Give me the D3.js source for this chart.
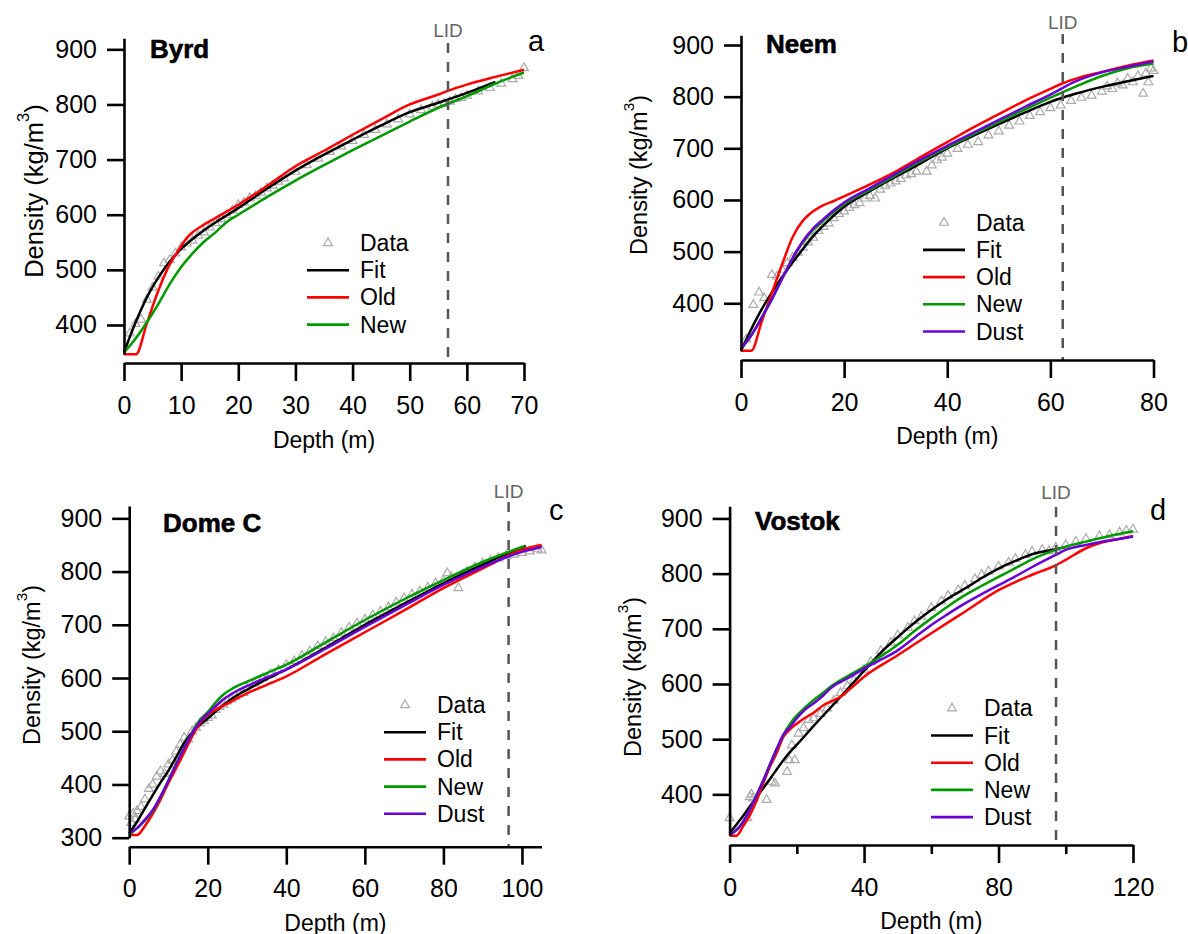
<!DOCTYPE html>
<html>
<head>
<meta charset="utf-8">
<script src="https://cdn.jsdelivr.net/npm/d3@7"></script>
<style>
  body { margin: 0; background: #fff; }
  svg { display: block; }
</style>
</head>
<body>
<script>
// ---- values: [depth (m), density (kg/m3)] ----
const byrdData = [[1,385],[2,402],[3,410],[4,446],[5,468],[6,488],[7,512],[8,518],[9,530],[10,541],[11,548],[12,553],[13,562],[14,568],[15,577],[16,585],[17,592],[18,600],[19,608],[20,618],[21,622],[22,630],[23,634],[24,640],[25,648],[26,653],[27,660],[28,666],[30,678],[32,690],[34,702],[36,714],[38,724],[40,734],[42,745],[44,754],[46,764],[48,773],[50,782],[52,790],[54,796],[55,800],[56,801],[57,805],[58,810],[59,812],[60,816],[62,824],[64,830],[66,838],[68,846],[69,852],[70,866]];
const byrdFit = [[0,350],[1,378],[2,404],[3,428],[4,450],[5,469],[6,486],[7,501],[8,515],[9,527],[10,538],[12,556],[14,572],[16,586],[18,599],[20,612],[25,647],[30,680],[35,709],[40,736],[45,762],[50,786],[55,803],[60,821],[65,841]];
const byrdOld = [[0,347],[2.1,347],[4,403],[6,462],[8,510],[9.5,535],[11,558],[12,568],[14,582],[16,594],[20,618],[25,652],[30,688],[35,716],[40,745],[45,773],[50,800],[55,818],[57,826],[60,836],[65,850],[70,863]];
const byrdNew = [[0,350],[2,375],[4,405],[6,438],[8,474],[10,505],[12,530],[14,551],[16,568],[18,587],[20,600],[25,632],[30,662],[35,690],[40,717],[45,743],[50,769],[55,794],[60,815],[65,838],[70,858]];

const neemData = [[1,330],[2.4,397],[3.5,421],[4.5,410],[6,455],[7,452],[8,465],[9,478],[10,488],[11,498],[12,508],[13,518],[14,527],[15,540],[16,548],[17,555],[18,565],[19,573],[20,578],[21,585],[22,590],[23,594],[24,603],[25,608],[26,603],[27,620],[28,628],[29,632],[30,636],[31,641],[32,648],[33,650],[34,655],[36,655],[37,667],[38,677],[39,682],[40,690],[42,699],[44,707],[46,712],[48,725],[50,733],[52,744],[54,752],[56,763],[58,770],[60,778],[62,783],[64,792],[66,798],[68,802],[70,810],[71,820],[72,815],[73,826],[74,822],[75,835],[76,828],[77,840],[78,806],[78.5,845],[79,828],[79.5,855],[80,850]];
const neemFit = [[0,308],[2,350],[4,388],[6,421],[8,451],[10,479],[12,505],[14,530],[16,551],[18,570],[20,587],[25,617],[30,645],[35,672],[40,700],[45,724],[50,747],[55,769],[60,790],[65,806],[70,819],[75,830],[80,840]];
const neemOld = [[0,308],[2,308],[4,364],[6,420],[8,476],[10,528],[12,560],[13,570],[14,578],[16,590],[18,598],[20,607],[25,630],[30,655],[35,684],[40,712],[45,740],[50,766],[55,792],[60,815],[62.4,826],[65,835],[70,848],[75,860],[80,870]];
const neemNew = [[0,312],[2,338],[4,372],[6,408],[8,448],[10,487],[12,518],[14,542],[16,560],[18,577],[20,592],[25,620],[30,648],[35,676],[40,702],[45,727],[50,751],[55,775],[60,798],[65,820],[70,840],[75,855],[80,864]];
const neemDust = [[0,312],[2,338],[4,372],[6,408],[8,448],[10,487],[12,520],[14,545],[16,563],[18,580],[20,595],[25,623],[30,651],[35,679],[40,705],[45,730],[50,755],[55,780],[60,804],[65,830],[70,847],[75,858],[80,868]];

const domecData = [[0,340],[0.5,328],[1,345],[1.5,335],[2,350],[3,358],[4,372],[5,392],[6,400],[7,415],[8,425],[9,420],[10,438],[11,445],[12,462],[13,475],[14,488],[15,485],[16,500],[17,507],[18,515],[19,520],[20,525],[21,530],[22,540],[23,546],[24,550],[25,556],[26,560],[27,565],[28,570],[29,572],[30,580],[32,590],[34,600],[36,607],[38,615],[40,625],[42,632],[44,642],[46,650],[48,660],[50,668],[52,675],[54,685],[56,695],[58,703],[60,710],[62,718],[64,725],[66,733],[68,742],[70,750],[72,757],[74,763],[76,770],[78,778],[80,783],[81,797],[82,790],[83.8,769],[85,795],[86,800],[88,808],[90,815],[92,820],[94,825],[96,830],[98,832],[100,835],[102,838],[104,842],[105,840]];
const domecFit = [[0,308],[2,330],[4,355],[6,380],[8,404],[10,426],[12,452],[14,478],[16,497],[18,512],[20,524],[22,537],[25,555],[28,570],[30,578],[35,598],[40,616],[45,636],[50,657],[55,679],[60,700],[65,720],[70,740],[75,759],[80,778],[85,796],[90,813],[95,830],[100,845],[101,848]];
const domecOld = [[0,305],[2,305],[4,322],[6,345],[8,372],[10,403],[12,431],[14,460],[16,490],[18,515],[20,531],[22,540],[25,552],[30,571],[35,587],[40,603],[50,645],[60,686],[70,727],[80,769],[90,806],[100,841],[105,850]];
const domecNew = [[0,305],[2,318],[4,332],[6,350],[8,377],[10,408],[12,440],[14,468],[16,497],[18,521],[20,536],[22,554],[24,569],[26,579],[30,593],[35,609],[40,625],[50,667],[60,709],[70,748],[80,784],[90,818],[100.7,848]];
const domecDust = [[0,308],[2,318],[4,334],[6,352],[8,378],[10,407],[12,438],[14,468],[16,496],[18,518],[20,533],[22,547],[24,560],[26,570],[30,585],[35,601],[40,616],[50,655],[60,696],[70,736],[80,775],[90,809],[100,837],[105,846]];

const vostokData = [[0,357],[5.3,357],[6,395],[6.5,400],[7,393],[11,390],[12.6,423],[13.5,420],[17.1,441],[17.7,462],[19.4,462],[18.5,489],[20.5,510],[22,520],[23.5,535],[25,538],[27,546],[29,556],[31,570],[33,584],[35,596],[37,606],[40,626],[42,640],[45,660],[48,675],[50,688],[53,702],[55,714],[57,722],[60,738],[63,750],[65,760],[68,770],[70,778],[73,790],[75,798],[77,804],[80,813],[83,820],[85,827],[88,834],[90,840],[93,843],[95,841],[97,847],[100,852],[103,858],[106,863],[110,868],[113,870],[116,875],[118,878],[120,880]];
const vostokFit = [[0,329],[2,345],[4,361],[6,378],[8,395],[10,411],[12,428],[14,445],[16,462],[18,477],[20,490],[25,524],[30,557],[35,590],[40,624],[45,657],[50,685],[55,711],[60,734],[65,755],[70,773],[75,792],[80,809],[85,823],[90,835],[95,842],[100,848]];
const vostokOld = [[0,325],[2,325],[4,342],[6,362],[8,388],[10,420],[12,450],[14,475],[16,504],[18,518],[20,528],[22,537],[25,548],[28,562],[30,568],[33,577],[36,592],[40,613],[50,652],[60,692],[70,731],[80,770],[90,798],[97,815],[100,825],[106,846],[110,855],[115,862],[120,868]];
const vostokNew = [[0,326],[2,335],[4,350],[6,372],[8,398],[10,425],[12,454],[14,482],[16,508],[18,528],[20,543],[22,555],[25,571],[28,585],[30,595],[35,614],[40,631],[45,650],[50,671],[55,696],[60,719],[65,741],[70,761],[75,778],[80,794],[85,810],[90,826],[97,843],[100,849],[106,858],[110,864],[115,871],[120,877]];
const vostokDust = [[0,326],[2,335],[4,350],[6,372],[8,398],[10,425],[12,454],[14,482],[16,508],[18,522],[20,538],[22,551],[25,565],[28,580],[30,592],[35,610],[40,628],[45,644],[50,661],[55,684],[60,707],[65,727],[70,746],[75,763],[80,779],[85,795],[90,812],[97,834],[100,843],[106,852],[110,857],[115,862],[120,867]];

const lidDepths = [56.7, 62.4, 96.6, 97.1];
const siteNames = ["Byrd", "Neem", "Dome C", "Vostok"];
const panelLetters = ["a", "b", "c", "d"];
const xTicksA = [0, 10, 20, 30, 40, 50, 60, 70];
const xTicksB = [0, 20, 40, 60, 80];
const xTicksC = [0, 20, 40, 60, 80, 100];
const xTicksD = [0, 40, 80, 120];
const xMinorD = [20, 60, 100];
const yTicksABD = [400, 500, 600, 700, 800, 900];
const yTicksC = [300, 400, 500, 600, 700, 800, 900];

const FONT = "'Liberation Sans', Arial, Helvetica, sans-serif";
const colors = {Fit: "#000000", Old: "#ff0000", New: "#009a00", Dust: "#6a00d6"};

const svg = d3.select("body").append("svg")
  .attr("width", 1188)
  .attr("height", 934)
  .style("font-family", FONT);

// layout of each panel (pixel boxes)
const panels = [
  {i: 0, data: byrdData, lines: {Fit: byrdFit, Old: byrdOld, New: byrdNew},
   xMax: 70, xTicks: xTicksA, yTicks: yTicksABD, yDom: [347, 920],
   x0: 124, x1: 524, yBot: 354.2, yTop: 38.3, axisY: 363,
   ttlX: 43, ttlY: 191, ttlSize: 25.5,
   nameX: 150, nameY: 58, letX: 528, letY: 51, lidTop: 43, lidTextY: 37,
   legX: 328, legY: 243, depthY: 448},
  {i: 1, data: neemData, lines: {Fit: neemFit, Old: neemOld, New: neemNew, Dust: neemDust},
   xMax: 80, xTicks: xTicksB, yTicks: yTicksABD, yDom: [308, 919],
   x0: 741, x1: 1153.5, yBot: 350.8, yTop: 35.2, axisY: 360,
   ttlX: 647, ttlY: 175, ttlSize: 23.5,
   nameX: 766, nameY: 53, letX: 1172, letY: 52, lidTop: 34, lidTextY: 29,
   legX: 944, legY: 222.7, depthY: 444},
  {i: 2, data: domecData, lines: {Fit: domecFit, Old: domecOld, New: domecNew, Dust: domecDust},
   xMax: 105, xTicks: xTicksC, yTicks: yTicksC, yDom: [300, 923],
   x0: 129.2, x1: 541.6, yBot: 837.7, yTop: 506.1, axisY: 846.7,
   ttlX: 40, ttlY: 665, ttlSize: 23.5,
   nameX: 163, nameY: 532, letX: 549, letY: 520, lidTop: 502, lidTextY: 498,
   legX: 405, legY: 705, depthY: 931},
  {i: 3, data: vostokData, lines: {Fit: vostokFit, Old: vostokOld, New: vostokNew, Dust: vostokDust},
   xMax: 120, xTicks: xTicksD, xMinor: xMinorD, yTicks: yTicksABD, yDom: [326, 922],
   x0: 729.6, x1: 1133, yBot: 835.2, yTop: 506.3, axisY: 845,
   ttlX: 641, ttlY: 677, ttlSize: 23.5,
   nameX: 755, nameY: 530, letX: 1150, letY: 520, lidTop: 507, lidTextY: 499,
   legX: 952, legY: 708.3, depthY: 929}
];

const tri = d3.symbol().type(d3.symbolTriangle).size(34);

panels.forEach(function(p) {
  const g = svg.append("g");

  const x = d3.scaleLinear().domain([0, p.xMax]).range([p.x0, p.x1]);
  const y = d3.scaleLinear().domain(p.yDom).range([p.yBot, p.yTop]);

  // data markers
  g.append("g").selectAll("path")
    .data(p.data)
    .enter().append("path")
    .attr("d", tri)
    .attr("transform", d => "translate(" + x(d[0]) + "," + y(d[1]) + ")")
    .attr("fill", "none")
    .attr("stroke", "#ababab")
    .attr("stroke-width", 1.2);

  const line = d3.line()
    .x(d => x(d[0]))
    .y(d => y(d[1]))
    .curve(d3.curveMonotoneX);

  Object.keys(p.lines).forEach(function(k) {
    g.append("path")
      .datum(p.lines[k])
      .attr("d", line)
      .attr("fill", "none")
      .attr("stroke", colors[k])
      .attr("stroke-width", 2.5)
      .attr("stroke-linejoin", "round");
  });

  // LID dashed line
  const lx = x(lidDepths[p.i]);
  g.append("line")
    .attr("x1", lx).attr("x2", lx)
    .attr("y1", p.lidTop).attr("y2", p.axisY)
    .attr("stroke", "#555")
    .attr("stroke-width", 2.5)
    .attr("stroke-dasharray", "10,9");
  g.append("text")
    .attr("x", lx).attr("y", p.lidTextY)
    .attr("text-anchor", "middle")
    .attr("font-size", 19)
    .attr("fill", "#666")
    .text("LID");

  // y axis
  g.append("g")
    .attr("transform", "translate(" + p.x0 + ",0)")
    .call(d3.axisLeft(y).tickValues(p.yTicks).tickSize(17).tickSizeOuter(0).tickPadding(10));
  // x axis (offset below the plot)
  g.append("g")
    .attr("transform", "translate(0," + p.axisY + ")")
    .call(d3.axisBottom(x).tickValues(p.xTicks).tickSize(18).tickSizeOuter(0).tickPadding(15));
  if (p.xMinor) {
    g.append("g")
      .attr("transform", "translate(0," + p.axisY + ")")
      .call(d3.axisBottom(x).tickValues(p.xMinor).tickSize(9).tickFormat(""))
      .call(s => s.select(".domain").remove());
  }
  g.selectAll(".domain, .tick line")
    .attr("stroke", "#000")
    .attr("stroke-width", 2.6);
  g.selectAll(".tick text")
    .attr("font-size", 25)
    .attr("font-family", FONT)
    .attr("fill", "#000");

  // axis titles
  const yt = g.append("text")
    .attr("transform", "translate(" + p.ttlX + "," + p.ttlY + ") rotate(-90)")
    .attr("text-anchor", "middle")
    .attr("font-size", p.ttlSize);
  yt.append("tspan").text("Density (kg/m");
  yt.append("tspan").attr("dy", -p.ttlSize * 0.55).attr("font-size", p.ttlSize * 0.65).text("3");
  yt.append("tspan").attr("dy", p.ttlSize * 0.55).text(")");

  g.append("text")
    .attr("x", (p.x0 + p.x1) / 2)
    .attr("y", p.depthY)
    .attr("text-anchor", "middle")
    .attr("font-size", 23)
    .text("Depth (m)");

  // site name and panel letter
  g.append("text")
    .attr("x", p.nameX).attr("y", p.nameY)
    .attr("font-size", 26)
    .attr("font-weight", "bold")
    .attr("stroke", "#000")
    .attr("stroke-width", 0.6)
    .text(siteNames[p.i]);
  g.append("text")
    .attr("x", p.letX).attr("y", p.letY)
    .attr("font-size", 29)
    .text(panelLetters[p.i]);

  // legend
  const keys = ["Data"].concat(Object.keys(p.lines));
  keys.forEach(function(k, j) {
    const ry = p.legY + j * 27.2;
    if (k == "Data") {
      g.append("path")
        .attr("d", tri)
        .attr("transform", "translate(" + p.legX + "," + ry + ")")
        .attr("fill", "none")
        .attr("stroke", "#ababab")
        .attr("stroke-width", 1.2);
    } else {
      g.append("line")
        .attr("x1", p.legX - 21).attr("x2", p.legX + 21)
        .attr("y1", ry).attr("y2", ry)
        .attr("stroke", colors[k])
        .attr("stroke-width", 2.6);
    }
    g.append("text")
      .attr("x", p.legX + 32)
      .attr("y", ry + 8)
      .attr("font-size", 23)
      .text(k);
  });
});
</script>
</body>
</html>
